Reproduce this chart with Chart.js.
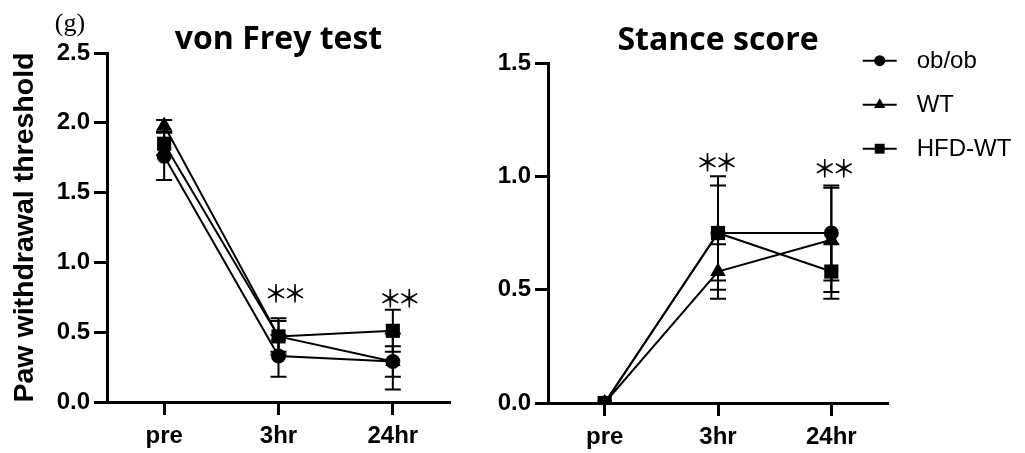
<!DOCTYPE html>
<html><head><meta charset="utf-8">
<script src="https://cdn.jsdelivr.net/npm/chart.js@4.4.0/dist/chart.umd.min.js"></script>
<style>
html,body{margin:0;padding:0;background:#fff;}
body{width:1025px;height:453px;overflow:hidden;position:relative;}
#w1{position:absolute;left:0;top:0;width:460px;height:453px;}
#w2{position:absolute;left:460px;top:0;width:565px;height:453px;}
</style></head>
<body>
<div id="w1"><canvas id="c1" width="460" height="453"></canvas></div>
<div id="w2"><canvas id="c2" width="565" height="453"></canvas></div>
<script>
// ---------- data ----------
const categories = ['pre', '3hr', '24hr'];
const seriesNames = ['ob/ob', 'WT', 'HFD-WT'];

// von Frey test (g)
const vfObob = [1.76, 0.33, 0.29];
const vfObobErr = [0.17, 0.15, 0.11];
const vfWT = [1.98, 0.47, 0.29];
const vfWTErr = [0.04, 0.11, 0.20];
const vfHFD = [1.85, 0.47, 0.51];
const vfHFDErr = [0.08, 0.13, 0.15];
const vfSig = ['', '**', '**'];

// Stance score
const stObob = [0, 0.75, 0.75];
const stObobErr = [0, 0.21, 0.21];
const stWT = [0, 0.58, 0.72];
const stWTErr = [0, 0.12, 0.23];
const stHFD = [0, 0.75, 0.58];
const stHFDErr = [0, 0.25, 0.12];
const stSig = ['', '**', '**'];

const vfTitle = 'von Frey test';
const stTitle = 'Stance score';
const yTitle = 'Paw withdrawal threshold';
const unitLabel = '(g)';

// ---------- styles ----------
const BLACK = '#000';
const tickFont = {family: "'Liberation Sans', Arial, sans-serif", size: 24, weight: 'bold'};
const pointStyles = ['circle', 'triangle', 'rect'];
const pointRadii = [7.5, 9, 10];
const legendRadii = [5.5, 6.5, 7];

function makeDatasets(vals, errs) {
  return vals.map((v, i) => ({
    label: seriesNames[i],
    data: v,
    errors: errs[i],
    borderColor: BLACK,
    backgroundColor: BLACK,
    borderWidth: 2,
    pointStyle: pointStyles[i],
    pointRadius: pointRadii[i],
    pointBackgroundColor: BLACK,
    pointBorderColor: BLACK,
    pointBorderWidth: 0,
    tension: 0,
    fill: false
  }));
}

const errorBarPlugin = {
  id: 'errorBars',
  beforeDatasetsDraw(chart) {
    const ctx = chart.ctx, ys = chart.scales.y;
    ctx.save();
    ctx.strokeStyle = BLACK;
    ctx.lineWidth = 2;
    chart.data.datasets.forEach((ds, di) => {
      const meta = chart.getDatasetMeta(di);
      ds.data.forEach((v, i) => {
        const e = ds.errors[i];
        if (!e) return;
        const x = meta.data[i].x;
        const yt = ys.getPixelForValue(v + e), yb = ys.getPixelForValue(v - e);
        ctx.beginPath();
        ctx.moveTo(x, yt); ctx.lineTo(x, yb);
        ctx.moveTo(x - 8, yt); ctx.lineTo(x + 8, yt);
        ctx.moveTo(x - 8, yb); ctx.lineTo(x + 8, yb);
        ctx.stroke();
      });
    });
    ctx.restore();
  }
};

const textPlugin = {
  id: 'texts',
  afterDraw(chart, args, opts) {
    const ctx = chart.ctx, ca = chart.chartArea;
    ctx.save();
    ctx.fillStyle = BLACK;
    // title
    ctx.font = "bold 32px 'Open Sans', sans-serif";
    ctx.textAlign = 'center';
    ctx.textBaseline = 'alphabetic';
    ctx.fillText(opts.title, (ca.left + ca.right) / 2, opts.titleY);
    // significance marks
    const xs = chart.scales.x, ys = chart.scales.y;
    ctx.font = "500 24px 'Noto Sans CJK JP', sans-serif";
    ctx.textBaseline = 'middle';
    opts.sig.forEach((s, i) => {
      if (!s) return;
      let top = Infinity;
      chart.data.datasets.forEach(ds => {
        top = Math.min(top, ys.getPixelForValue(ds.data[i] + (ds.errors[i] || 0)));
      });
      const cx = xs.getPixelForValue(i) + opts.sigDx[i];
      const cy = top - opts.sigGap[i];
      const n = s.length;
      for (let k = 0; k < n; k++) {
        ctx.fillText('\uFF0A', cx + (k - (n - 1) / 2) * 19, cy);
      }
    });
    if (opts.unit) {
      ctx.font = "26px 'Liberation Serif', serif";
      ctx.textBaseline = 'alphabetic';
      ctx.fillText(opts.unit, 70, 31);
    }
    if (opts.yTitle) {
      ctx.translate(25, (ca.top + ca.bottom) / 2);
      ctx.rotate(-Math.PI / 2);
      ctx.font = "bold 28.5px 'Liberation Sans', Arial, sans-serif";
      ctx.textBaseline = 'middle';
      ctx.fillText(opts.yTitle, 0, 0);
    }
    ctx.restore();
  }
};

const legendPlugin = {
  id: 'customLegend',
  afterDraw(chart, args, opts) {
    if (!opts.show) return;
    const ctx = chart.ctx;
    ctx.save();
    chart.data.datasets.forEach((ds, i) => {
      const y = opts.y0 + i * opts.dy;
      ctx.strokeStyle = BLACK; ctx.lineWidth = 2;
      ctx.beginPath(); ctx.moveTo(opts.x0, y); ctx.lineTo(opts.x0 + 34, y); ctx.stroke();
      ctx.fillStyle = BLACK;
      Chart.helpers.drawPoint(ctx, {pointStyle: pointStyles[i], radius: legendRadii[i], rotation: 0, borderWidth: 0}, opts.x0 + 17, y);
      ctx.fillStyle = BLACK;
      ctx.font = "24px 'Liberation Sans', Arial, sans-serif";
      ctx.textAlign = 'left'; ctx.textBaseline = 'middle';
      ctx.fillText(ds.label, opts.x0 + 54, y + 1);
    });
    ctx.restore();
  }
};

function makeChart(id, datasets, yMax, padTop, padRight, yAxisWidth, xAxisHeight, textOpts, legendOpts) {
  return new Chart(document.getElementById(id), {
    type: 'line',
    data: {labels: categories, datasets},
    plugins: [errorBarPlugin, textPlugin, legendPlugin],
    options: {
      responsive: false, animation: false, devicePixelRatio: 1,
      layout: {padding: {top: padTop, right: padRight, left: 0, bottom: 0}},
      plugins: {legend: {display: false}, tooltip: {enabled: false}, title: {display: false},
        texts: textOpts, customLegend: legendOpts},
      scales: {
        x: {
          type: 'category', offset: true,
          grid: {drawOnChartArea: false, drawTicks: true, tickLength: 13, tickWidth: 3, color: BLACK, offset: false},
          border: {display: true, width: 3, color: BLACK},
          ticks: {color: BLACK, font: tickFont, padding: 7, maxRotation: 0, autoSkip: false},
          afterFit(s) { s.height = xAxisHeight; }
        },
        y: {
          min: 0, max: yMax,
          grid: {drawOnChartArea: false, drawTicks: true, tickLength: 13, tickWidth: 3, color: BLACK},
          border: {display: true, width: 3, color: BLACK},
          ticks: {stepSize: 0.5, color: BLACK, font: tickFont, padding: 4, callback: v => Number(v).toFixed(1)},
          afterFit(s) { s.width = yAxisWidth; }
        }
      }
    }
  });
}

makeChart('c1',
  makeDatasets([vfObob, vfWT, vfHFD], [vfObobErr, vfWTErr, vfHFDErr]),
  2.5, 53, 10, 107, 51,
  {title: vfTitle, titleY: 49, sig: vfSig, sigDx: [0, 7, 7], sigGap: [0, 25, 12], unit: unitLabel, yTitle: yTitle},
  {show: false});

makeChart('c2',
  makeDatasets([stObob, stWT, stHFD], [stObobErr, stWTErr, stHFDErr]),
  1.5, 63, 137, 88, 50,
  {title: stTitle, titleY: 50, sig: stSig, sigDx: [0, -1, 3], sigGap: [0, 14, 18]},
  {show: true, x0: 402.7, y0: 60.7, dy: 44});
</script>
</body></html>
